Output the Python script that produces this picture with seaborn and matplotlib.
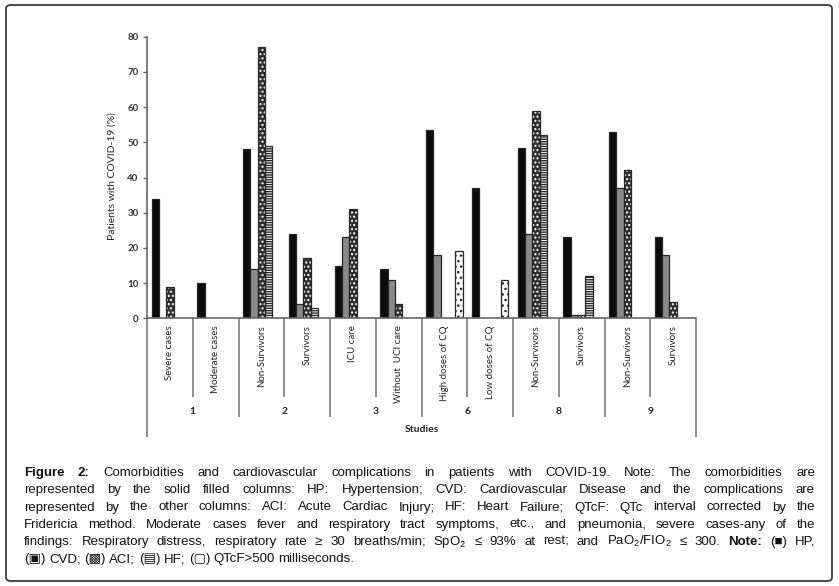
import numpy as np
import pandas as pd
import matplotlib
matplotlib.use("Agg")
import matplotlib.pyplot as plt
import seaborn as sns
from matplotlib.patches import FancyBboxPatch, Rectangle
from matplotlib import font_manager

nan = np.nan

# --- data ---
groups = ['Severe cases', 'Moderate cases', 'Non-Survivors', 'Survivors',
          'ICU care', 'Without  UCI care', 'High doses of CQ', 'Low doses of CQ',
          'Non-Survivors', 'Survivors', 'Non-Survivors', 'Survivors']
studies = ['1', '2', '3', '6', '8', '9']
series = ['HP', 'CVD', 'ACI', 'HF', 'QTcF']

hp = [34, 10, 48, 24, 15, 14, 53.5, 37, 48.5, 23, 53, 23]
cvd = [nan, nan, 14, 4, 23, 11, 18, nan, 24, 1, 37, 18]
aci = [9, nan, 77, 17, 31, 4, nan, nan, 59, 0.8, 42, 4.5]
hf = [nan, nan, 49, 3, nan, nan, nan, nan, 52, 12, nan, nan]
qtcf = [nan, nan, nan, nan, nan, nan, 19, 11, nan, nan, nan, nan]

sns.set_style("white")
plt.rcParams['font.family'] = ['Lato', 'DejaVu Sans']

names = {f.name for f in font_manager.fontManager.ttflist}
if 'Liberation Sans Narrow' in names:
    cap_font, cap_size = 'Liberation Sans Narrow', 11
else:
    cap_font, cap_size = 'Liberation Sans', 9.5
plt.rcParams['mathtext.fontset'] = 'custom'
plt.rcParams['mathtext.rm'] = cap_font
plt.rcParams['mathtext.it'] = cap_font

W, H = 839, 586
fig = plt.figure(figsize=(W / 100, H / 100), dpi=100)

# axes box in pixels: left 147, right 696, top 36.7, bottom 318.3
ax_l, ax_r, ax_t, ax_b = 147, 696, 36.7, 318.3
ax = fig.add_axes([ax_l / W, 1 - ax_b / H, (ax_r - ax_l) / W, (ax_b - ax_t) / H])

keys = [f"c{i}" for i in range(len(groups))]
rows = []
for name, vals in zip(series, [hp, cvd, aci, hf, qtcf]):
    for k, v in zip(keys, vals):
        rows.append({'cat': k, 'series': name, 'value': v})
df = pd.DataFrame(rows)

sns.barplot(data=df, x='cat', y='value', hue='series', order=keys,
            hue_order=series, errorbar=None, legend=False, ax=ax,
            saturation=1, width=0.8)

# fill, hatch, hatch colour per series
styles = {
    'HP': ('#0b0b0b', None, None),
    'CVD': ('#8a8a8a', None, None),
    'ACI': ('#2e2e2e', '....', 'white'),
    'HF': ('white', '-------', '#262626'),
    'QTcF': ('white', '...', '#262626'),
}
for name, cont in zip(series, ax.containers):
    fc, hatch, hc = styles[name]
    for bar in cont:
        bar.set_facecolor(fc)
        if hatch:
            # hatch colour follows edge colour, so outline is redrawn on top
            bar.set_hatch(hatch)
            bar.set_edgecolor(hc)
            bar.set_linewidth(0)
            ax.add_patch(Rectangle(bar.get_xy(), bar.get_width(), bar.get_height(),
                                   fill=False, edgecolor='#262626', lw=0.9))
        else:
            bar.set_edgecolor('#262626')
            bar.set_linewidth(0.9)

ax.set_xlim(-0.5, len(groups) - 0.5)
ax.set_ylim(0, 80)
ax.set_yticks(range(0, 81, 10))
ax.tick_params(axis='y', left=True, length=3, width=1, color='#666',
               labelsize=7, labelcolor='#333', pad=3)
for lbl in ax.get_yticklabels():
    lbl.set_fontweight('bold')
ax.set_xticks(range(len(groups)))
ax.set_xticklabels(groups, rotation=90, va='top', ha='center', fontsize=7, color='#222')
ax.tick_params(axis='x', length=0, pad=5)
ax.set_xlabel('')
ax.set_ylabel('')
for s in ['top', 'right']:
    ax.spines[s].set_visible(False)
for s in ['left', 'bottom']:
    ax.spines[s].set_color('#666')
    ax.spines[s].set_linewidth(1.2)

# multi-level category axis
def yfrac(ypix):
    return (ax_b - ypix) / (ax_b - ax_t)

tr = ax.get_xaxis_transform()
for k in range(len(groups) + 1):
    x = k - 0.5
    if k in (0, len(groups)):
        end = 437
    elif k % 2 == 0:
        end = 417
    else:
        end = 397
    ax.plot([x, x], [0, yfrac(end)], transform=tr, color='#7a7a7a', lw=1.2,
            clip_on=False, solid_capstyle='butt')
for j, s in enumerate(studies):
    ax.text(2 * j + 0.5, yfrac(411), s, transform=tr, ha='center', va='center',
            fontsize=7.5, fontweight='bold', color='#222')
ax.text(0.5, yfrac(430), 'Studies', transform=ax.transAxes, ha='center',
        va='center', fontsize=7.5, fontweight='bold', color='#222')

fig.text(112 / W, 1 - 176 / H, 'Patients with COVID-19 (%)', rotation=90,
         ha='center', va='center', fontsize=7.5, color='#222')

# outer frame
frame = FancyBboxPatch((6 / W, 1 - 581 / H), 826 / W, 576 / H,
                       boxstyle='round,pad=0,rounding_size=0.006',
                       transform=fig.transFigure, fill=False,
                       edgecolor='#3a3a3a', lw=1.3)
fig.patches.append(frame)

# caption, justified line by line
cap_lines = [
    [("Figure 2:", True), ("Comorbidities and cardiovascular complications in patients with COVID-19. Note: The comorbidities are", False)],
    [("represented by the solid filled columns: HP: Hypertension; CVD: Cardiovascular Disease and the complications are", False)],
    [("represented by the other columns: ACI: Acute Cardiac Injury; HF: Heart Failure; QTcF: QTc interval corrected by the", False)],
    [("Fridericia method. Moderate cases fever and respiratory tract symptoms, etc., and pneumonia, severe cases-any of the", False)],
    [("findings: Respiratory distress, respiratory rate \u2265 30 breaths/min; SpO$_2$ \u2264 93% at rest; and PaO$_2$/FIO$_2$ \u2264 300.", False),
     ("Note:", True), ("(\u25a0) HP,", False)],
    [("(\u25a3) CVD; (\u25a9) ACI; (\u25a4) HF; (\u25a2) QTcF>500 milliseconds.", False)],
]
cap_x0, cap_x1 = 24, 815
baselines = [476, 493.3, 510.5, 527.7, 545, 562.2]

fig.canvas.draw()
renderer = fig.canvas.get_renderer()

def cap_text(x, y, s, bold):
    return fig.text(x / W, 1 - y / H, s, fontsize=cap_size, family=[cap_font, 'DejaVu Sans'],
                    fontweight='bold' if bold else 'normal', va='baseline', ha='left', color='#111')

probe1 = cap_text(0, -50, 'x x', False)
probe2 = cap_text(0, -50, 'xx', False)
space_w = probe1.get_window_extent(renderer).width - probe2.get_window_extent(renderer).width
probe1.remove()
probe2.remove()

for li, (line, yb) in enumerate(zip(cap_lines, baselines)):
    words = [(w, b) for seg, b in line for w in seg.split(' ')]
    items = [cap_text(0, yb, w, b) for w, b in words]
    widths = [t.get_window_extent(renderer).width for t in items]
    if li == len(cap_lines) - 1:
        gap = space_w
    else:
        gap = (cap_x1 - cap_x0 - sum(widths)) / (len(items) - 1)
    x = cap_x0
    for t, wd in zip(items, widths):
        t.set_x(x / W)
        x += wd + gap

fig.savefig('out.png', dpi=100)
